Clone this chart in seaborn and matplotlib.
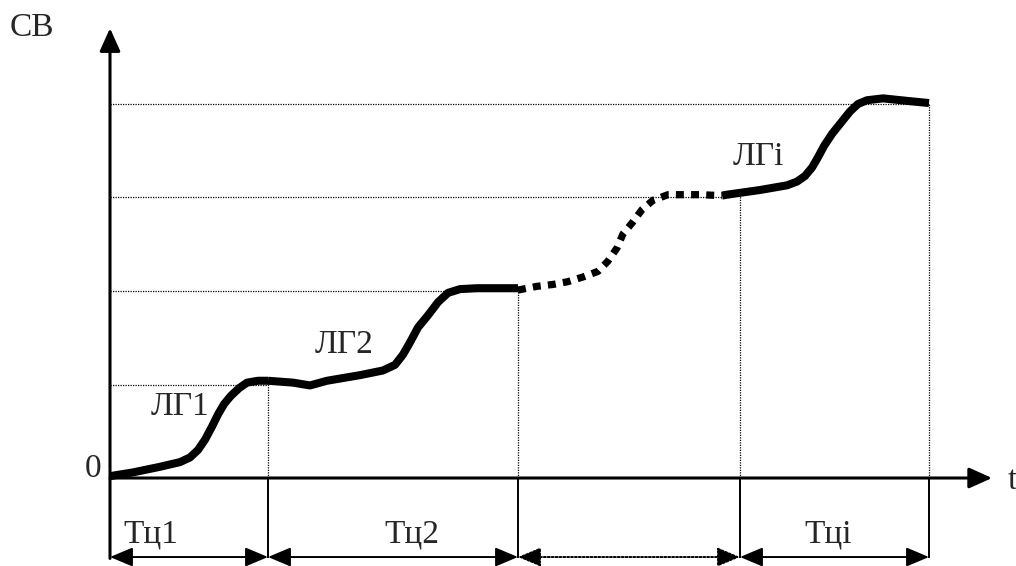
import numpy as np
import pandas as pd
import matplotlib
matplotlib.use("Agg")
import matplotlib.pyplot as plt
import seaborn as sns
from matplotlib.patches import FancyArrowPatch

# cycle boundaries on the time axis
bounds = [0.0, 1.58, 4.08, 6.30, 8.19]
levels = [1, 2, 3, 4]

# curve points (t, level)
t1 = [0.00, 0.23, 0.50, 0.70, 0.80, 0.88, 0.95, 1.02, 1.08, 1.14, 1.21, 1.29, 1.37, 1.48, 1.58]
y1 = [0.02, 0.06, 0.12, 0.17, 0.22, 0.30, 0.41, 0.55, 0.68, 0.79, 0.88, 0.96, 1.02, 1.04, 1.04]

t2 = [1.58, 1.83, 2.00, 2.17, 2.50, 2.73, 2.85, 2.93, 3.00, 3.08, 3.18, 3.28, 3.38, 3.50, 3.67, 3.87, 4.08]
y2 = [1.04, 1.02, 0.99, 1.04, 1.10, 1.15, 1.21, 1.32, 1.45, 1.61, 1.74, 1.88, 1.98, 2.02, 2.03, 2.03, 2.03]

t3 = [4.08, 4.27, 4.43, 4.58, 4.73, 4.88, 4.98, 5.07, 5.13, 5.23, 5.32, 5.43, 5.58, 5.73, 5.90, 6.12]
y3 = [2.01, 2.05, 2.07, 2.10, 2.15, 2.21, 2.32, 2.46, 2.61, 2.74, 2.87, 2.97, 3.03, 3.03, 3.03, 3.02]

t4 = [6.12, 6.17, 6.50, 6.77, 6.87, 6.95, 7.02, 7.08, 7.14, 7.22, 7.31, 7.40, 7.48, 7.57, 7.73, 8.00, 8.19]
y4 = [3.02, 3.03, 3.08, 3.13, 3.17, 3.23, 3.32, 3.43, 3.55, 3.68, 3.80, 3.92, 4.00, 4.04, 4.06, 4.03, 4.01]

curve_labels = ["ЛГ1", "ЛГ2", "ЛГі"]
period_labels = ["Тц1", "Тц2", "", "Тці"]

sns.set_style("white")
plt.rcParams["font.family"] = ["Liberation Serif", "DejaVu Serif"]

fig = plt.figure(figsize=(10.16, 5.66), dpi=100)
ax = fig.add_axes([0, 0, 1, 1])
ax.set_xlim(-1.10, 9.06)
ax.set_ylim(-0.941, 5.112)
ax.axis("off")

dot = (0, (1, 1))

# horizontal dotted guides up to the end of each cycle
for lev, end in zip(levels, [1.58, 4.08, 6.20, 8.19]):
    ax.hlines(lev, 0, end, colors="black", linestyles=dot, lw=0.9, zorder=1)

# vertical dotted guides at cycle ends
for b, top in zip(bounds[1:], [1.02, 2.02, 3.05, 4.0]):
    ax.vlines(b, 0, top, colors="black", linestyles=dot, lw=0.9, zorder=1)

# solid curve pieces
for tt, yy in [(t1, y1), (t2, y2), (t4, y4)]:
    sns.lineplot(x=tt, y=yy, ax=ax, color="black", lw=5.8, sort=False,
                 estimator=None, solid_joinstyle="round", solid_capstyle="butt", zorder=3)

# dotted (unknown) piece
sns.lineplot(x=t3, y=y3, ax=ax, color="black", lw=5.2, sort=False, estimator=None,
             linestyle=(0, (1.1, 1.0)), dash_capstyle="butt", zorder=3)

# axes with arrows
head = "-|>,head_length=1.0,head_width=0.45"
ax.add_patch(FancyArrowPatch((0, -0.86), (0, 4.81), arrowstyle=head,
                             mutation_scale=14, color="black", lw=2.2, shrinkA=0, shrinkB=0, zorder=4))
ax.add_patch(FancyArrowPatch((0, 0), (8.82, 0), arrowstyle=head,
                             mutation_scale=14, color="black", lw=2.2, shrinkA=0, shrinkB=0, zorder=4))

# dimension lines below the axis
for b in bounds[1:]:
    ax.vlines(b, -0.86, 0, colors="black", lw=1.4, zorder=2)

dim_y = -0.845
for i in range(len(bounds) - 1):
    ls = dot if i == 2 else "-"
    ax.add_patch(FancyArrowPatch((bounds[i], dim_y), (bounds[i + 1], dim_y),
                                 arrowstyle="<|-|>,head_length=1.0,head_width=0.42",
                                 mutation_scale=14, color="black", lw=1.4, linestyle=ls,
                                 shrinkA=0, shrinkB=0, zorder=4))

fs = 24
label_x = [0.41, 3.02, None, 7.18]
for lab, x in zip(period_labels, label_x):
    if lab:
        ax.text(x, -0.695, lab, fontsize=fs, ha="center", va="baseline")

ax.text(0.70, 0.67, curve_labels[0], fontsize=fs, ha="center", va="baseline")
ax.text(2.34, 1.34, curve_labels[1], fontsize=fs, ha="center", va="baseline")
ax.text(6.48, 3.35, curve_labels[2], fontsize=fs, ha="center", va="baseline")

ax.text(-0.78, 4.81, "СВ", fontsize=fs, ha="center", va="center")
ax.text(-0.17, 0.10, "0", fontsize=fs, ha="center", va="center")
ax.text(9.02, -0.03, "t", fontsize=fs, ha="center", va="center")

fig.savefig("out.png", dpi=100)
